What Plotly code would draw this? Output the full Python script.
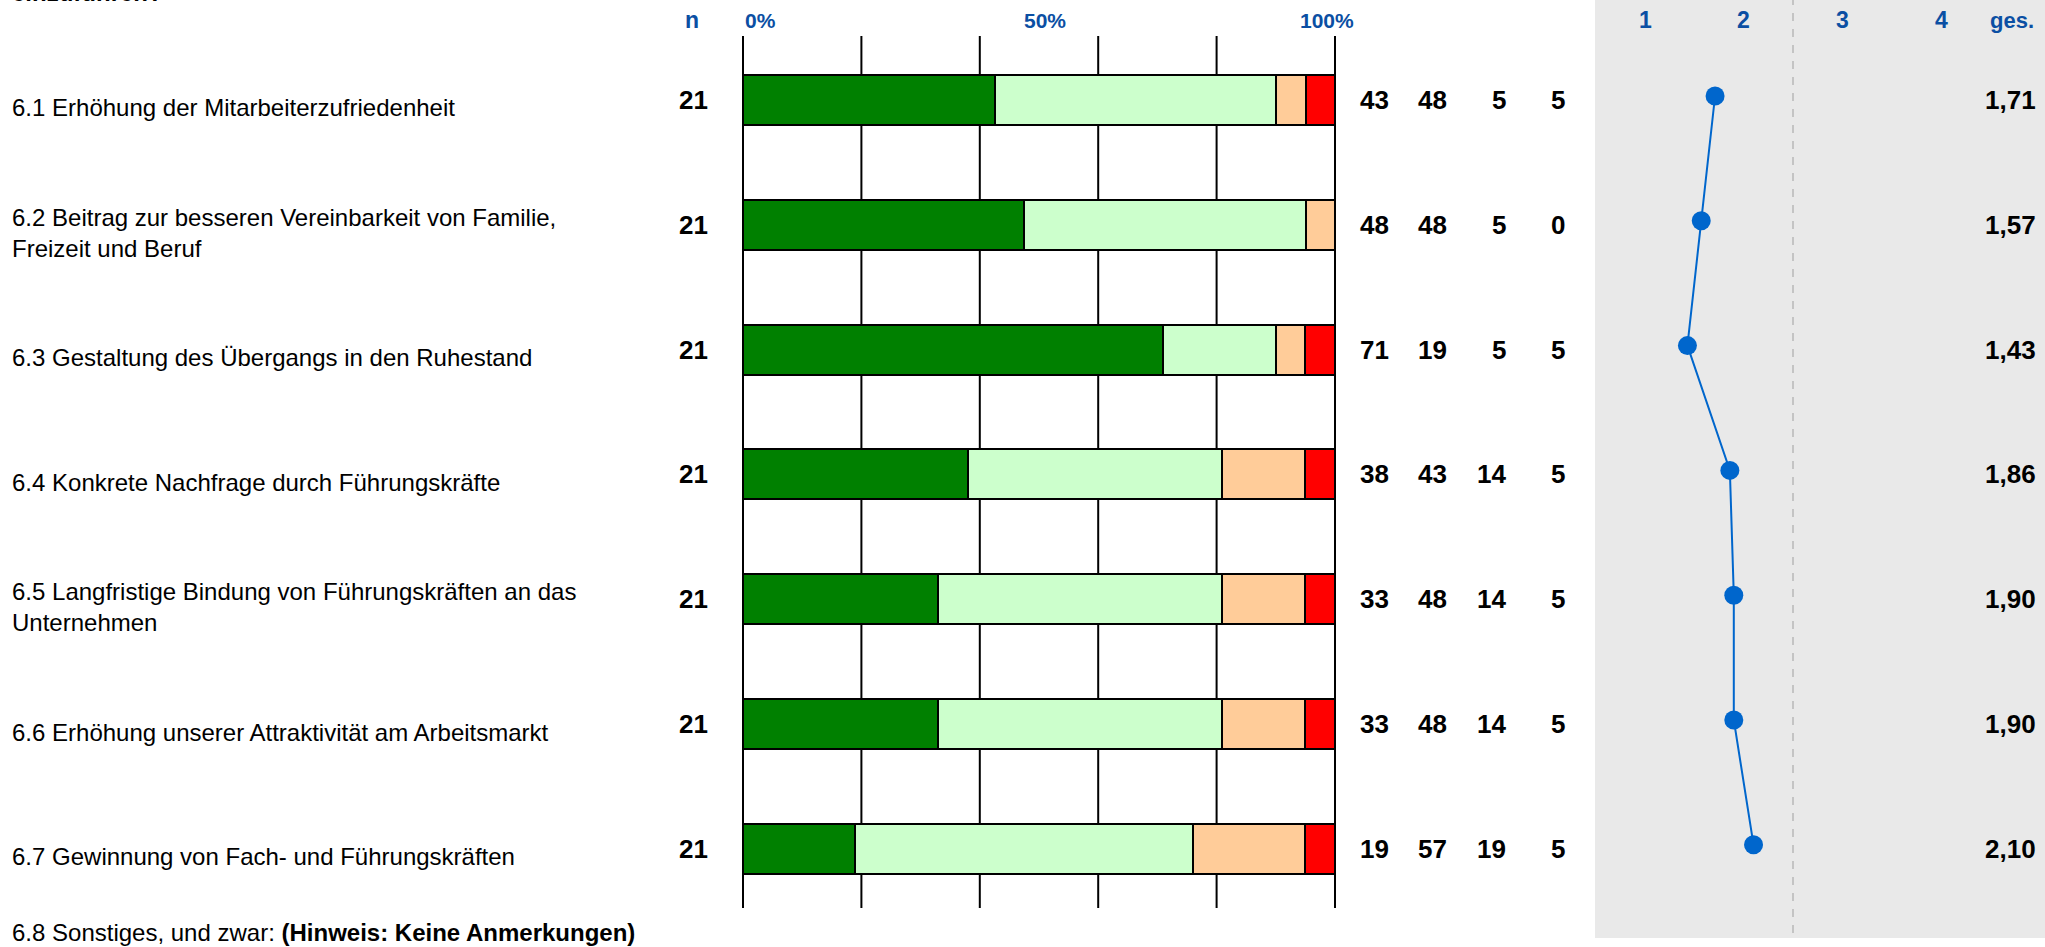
import plotly.graph_objects as go

W, H = 2045, 947

# ---------------- data ----------------
items = [
    "6.1 Erhöhung der Mitarbeiterzufriedenheit",
    "6.2 Beitrag zur besseren Vereinbarkeit von Familie,\nFreizeit und Beruf",
    "6.3 Gestaltung des Übergangs in den Ruhestand",
    "6.4 Konkrete Nachfrage durch Führungskräfte",
    "6.5 Langfristige Bindung von Führungskräften an das\nUnternehmen",
    "6.6 Erhöhung unserer Attraktivität am Arbeitsmarkt",
    "6.7 Gewinnung von Fach- und Führungskräften",
]
n_values = [21, 21, 21, 21, 21, 21, 21]
p1 = [43, 48, 71, 38, 33, 33, 19]
p2 = [48, 48, 19, 43, 48, 48, 57]
p3 = [5, 5, 5, 14, 14, 14, 19]
p4 = [5, 0, 5, 5, 5, 5, 5]
means = [1.71, 1.57, 1.43, 1.86, 1.90, 1.90, 2.10]
pct_grid = [0, 20, 40, 60, 80, 100]
pct_labels = ["0%", "50%", "100%"]
pct_label_pos = [0, 50, 100]
scale_ticks = [1, 2, 3, 4]
mean_header = "ges."
n_header = "n"
top_text = "einzuführen?"
extra_item = "6.8 Sonstiges, und zwar: <b>(Hinweis: Keine Anmerkungen)</b>"

colors = ["#008000", "#CCFFCC", "#FFCC99", "#FF0000"]
BLUE = "#0B4FA3"
LINE_BLUE = "#0066CC"
FONT = "Liberation Sans Narrow, Arial Narrow, Liberation Sans, Arial, sans-serif"

LABEL_SIZE = 24
NUM_SIZE = 26
PCT_HEAD_SIZE = 21
HEAD_SIZE = 23

# ---------------- geometry (pixels) ----------------
ROW0, STEP = 100.0, 124.8
GTOP, GBOT = 36.0, 908.0
X0, X100 = 743.0, 1335.0
PPX = (X100 - X0) / 100.0
M1, MSTEP = 1645.0, 98.67
PANEL_X0, PANEL_BOT = 1595.0, 938.0
HEAD_Y = 20.0

rows = list(range(len(items)))
y_top = (GTOP - ROW0) / STEP
y_bot = (GBOT - ROW0) / STEP
ydom = [1 - GBOT / H, 1 - GTOP / H]
dot_shift = 4.0 / STEP


def py(px):
    return 1 - px / H


fig = go.Figure()

bar_series = [p1, p2, p3, p4]
for vals, col in zip(bar_series, colors):
    fig.add_trace(go.Bar(
        x=vals, y=rows, orientation="h", width=0.4,
        marker=dict(color=col, line=dict(color="black", width=2)),
        hoverinfo="skip", showlegend=False, xaxis="x", yaxis="y",
    ))

fig.add_trace(go.Scatter(
    x=means, y=rows, mode="lines+markers", xaxis="x2", yaxis="y2",
    line=dict(color=LINE_BLUE, width=2),
    marker=dict(color=LINE_BLUE, size=19),
    hoverinfo="skip", showlegend=False, cliponaxis=False,
))

shapes = []
# grey panel
shapes.append(dict(type="rect", xref="paper", yref="paper",
                   x0=PANEL_X0 / W, x1=1, y0=py(PANEL_BOT), y1=1,
                   fillcolor="#E9E9E9", line=dict(width=0), layer="below"))
# dashed mid line at 2.5
mid = (scale_ticks[1] + scale_ticks[2]) / 2
xmid = (M1 + (mid - 1) * MSTEP) / W
shapes.append(dict(type="line", xref="paper", yref="paper",
                   x0=xmid, x1=xmid, y0=py(933), y1=1,
                   line=dict(color="#C4C4C4", width=2, dash="8px,8px"), layer="below"))
# percentage grid lines
for g in pct_grid:
    shapes.append(dict(type="line", xref="x", yref="y domain", x0=g, x1=g, y0=0, y1=1,
                       line=dict(color="black", width=2), layer="below"))

ann = []


def add(text, x, y, xref="paper", yref="paper", size=LABEL_SIZE, color="black",
        xanchor="left", yshift=0, xshift=0):
    ann.append(dict(text=text, x=x, y=y, xref=xref, yref=yref, showarrow=False,
                    xanchor=xanchor, yanchor="middle", yshift=yshift, xshift=xshift,
                    font=dict(family=FONT, size=size, color=color)))


# headers
add(f"<b>{n_header}</b>", 692 / W, py(HEAD_Y), size=HEAD_SIZE, color=BLUE, xanchor="center")
for lab, pos in zip(pct_labels, pct_label_pos):
    if pos == 0:
        add(f"<b>{lab}</b>", pos, py(HEAD_Y), xref="x", size=PCT_HEAD_SIZE, color=BLUE,
            xanchor="left")
    elif pos == 100:
        add(f"<b>{lab}</b>", pos, py(HEAD_Y), xref="x", size=PCT_HEAD_SIZE, color=BLUE,
            xanchor="center", xshift=-8)
    else:
        add(f"<b>{lab}</b>", pos, py(HEAD_Y), xref="x", size=PCT_HEAD_SIZE, color=BLUE,
            xanchor="center", xshift=6)
for t in scale_ticks:
    add(f"<b>{t}</b>", t, py(HEAD_Y), xref="x2", size=HEAD_SIZE, color=BLUE,
        xanchor="center")
add(f"<b>{mean_header}</b>", 2012 / W, py(HEAD_Y), size=22, color=BLUE,
    xanchor="center")

# cut-off question text at the very top
add(f"<b>{top_text}</b>", 10 / W, py(-7), size=LABEL_SIZE, xanchor="left")

# rows
val_cols_right = [1391, 1449, 1508, 1567]
for i, r in enumerate(rows):
    lines = items[i].split("\n")
    k = len(lines)
    for j, ln in enumerate(lines):
        off = (j - (k - 1) / 2) * 31
        add(ln, 10 / W, r, yref="y", xanchor="left", yshift=-8 - off)
    add(f"<b>{n_values[i]}</b>", 710 / W, r, yref="y", size=NUM_SIZE, xanchor="right")
    for xr, ser in zip(val_cols_right, bar_series):
        add(f"<b>{ser[i]}</b>", xr / W, r, yref="y", size=NUM_SIZE, xanchor="right")
    add(f"<b>{means[i]:.2f}</b>".replace(".", ","), 2038 / W, r, yref="y",
        size=NUM_SIZE, xanchor="right")

add(extra_item, 10 / W, py(932), size=LABEL_SIZE, xanchor="left")

fig.update_layout(
    width=W, height=H, margin=dict(l=0, r=0, t=0, b=0, pad=0),
    paper_bgcolor="white", plot_bgcolor="rgba(0,0,0,0)",
    barmode="stack", barnorm="percent", bargap=0,
    shapes=shapes, annotations=ann, showlegend=False,
    font=dict(family=FONT),
    xaxis=dict(domain=[(X0 - 2 * PPX) / W, (X100 + 2 * PPX) / W], range=[-2, 102],
               showgrid=False, zeroline=False, showticklabels=False, showline=False,
               fixedrange=True),
    yaxis=dict(domain=ydom, range=[y_bot, y_top], showgrid=False, zeroline=False,
               showticklabels=False, showline=False, fixedrange=True),
    xaxis2=dict(domain=[PANEL_X0 / W, 1], anchor="y2",
                range=[1 + (PANEL_X0 - M1) / MSTEP, 1 + (W - M1) / MSTEP],
                showgrid=False, zeroline=False, showticklabels=False, fixedrange=True),
    yaxis2=dict(domain=ydom, anchor="x2", range=[y_bot + dot_shift, y_top + dot_shift],
                showgrid=False, zeroline=False, showticklabels=False, fixedrange=True),
)

fig.write_html(
    "out.html",
    config={"displayModeBar": False},
    post_script="document.body.style.margin='0px';document.body.style.padding='0px';"
                "document.body.style.overflow='hidden';",
)
